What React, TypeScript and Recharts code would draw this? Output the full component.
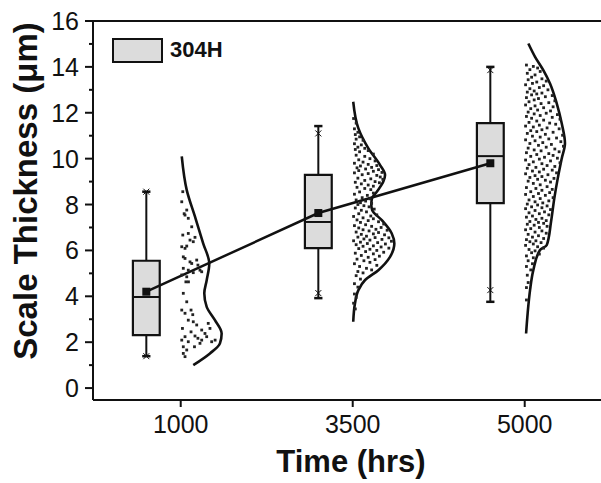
import {
  ComposedChart,
  Label,
  Legend,
  Line,
  ReferenceArea,
  ReferenceLine,
  Scatter,
  XAxis,
  YAxis,
} from "recharts";

const FONT = "'Liberation Sans', Arial, sans-serif";
const INK = "#111";
const BOX_FILL = "#dcdcdc";

const categories = ["1000", "3500", "5000"];
const yTicks = [0, 1, 2, 3, 4, 5, 6, 7, 8, 9, 10, 11, 12, 13, 14, 15, 16];

// box statistics per category (um)
const boxOffset = -0.2;
const boxHalf = 0.078;
const capHalf = 0.024;
const q1 = [2.31, 6.1, 8.06];
const q3 = [5.55, 9.29, 11.55];
const medians = [3.97, 7.24, 10.11];
const means = [4.2, 7.63, 9.8];
const whiskerLow = [1.39, 3.92, 3.76];
const whiskerHigh = [8.56, 11.42, 14.0];
const minMarks = [1.39, 4.14, 4.27];
const maxMarks = [8.56, 11.1, 13.86];

// distribution curves: [offset from tick, thickness]
const curve1000: [number, number][] = [
  [0.006, 10.1], [0.035, 8.63], [0.083, 7.47], [0.131, 6.3], [0.166, 5.43],
  [0.151, 4.7], [0.137, 4.13], [0.151, 3.54], [0.199, 2.96], [0.238, 2.38],
  [0.228, 1.95], [0.17, 1.51], [0.073, 1.0],
];
const curve3500: [number, number][] = [
  [0.003, 12.48], [0.033, 11.32], [0.091, 10.45], [0.159, 9.72], [0.188, 9.29],
  [0.178, 9.0], [0.14, 8.56], [0.112, 8.27], [0.108, 8.0], [0.113, 7.76],
  [0.169, 7.32], [0.227, 6.74], [0.242, 6.3], [0.217, 5.72], [0.149, 5.14],
  [0.072, 4.71], [0.033, 4.27], [0.013, 3.69], [0.003, 2.89],
];
const curve5000: [number, number][] = [
  [0.021, 15.02], [0.06, 14.44], [0.108, 13.86], [0.147, 13.28], [0.186, 12.41],
  [0.215, 11.54], [0.234, 10.67], [0.215, 10.0], [0.192, 9.14], [0.172, 8.27],
  [0.153, 7.25], [0.128, 6.23], [0.089, 6.02], [0.05, 5.14], [0.031, 4.27],
  [0.017, 3.26], [0.008, 2.38],
];

// raw measurements: [offset from tick, thickness]
const points1000: [number, number][] = [
  [0.012, 8.56], [0.006, 8.12], [0.035, 7.76], [0.02, 7.6], [0.025, 7.54], [0.044, 7.4],
  [0.012, 6.67], [0.044, 6.74], [0.064, 7.03], [0.054, 6.45], [0.073, 6.38], [0.083, 6.57],
  [0.006, 6.16], [0.025, 6.09], [0.035, 6.19], [0.015, 5.72], [0.025, 5.65], [0.054, 5.5],
  [0.064, 5.43], [0.093, 5.58], [0.1, 5.36], [0.015, 5.22], [0.044, 5.14], [0.073, 5.03],
  [0.112, 5.14], [0.122, 5.07], [0.006, 4.93], [0.035, 4.85], [0.03, 4.63], [0.045, 4.63],
  [0.015, 4.13], [0.035, 3.76], [0.006, 3.4], [0.025, 3.26], [0.06, 3.4], [0.07, 3.2],
  [0.044, 2.96], [0.073, 2.89], [0.093, 2.75], [0.122, 2.53], [0.141, 2.38], [0.16, 2.82],
  [0.17, 2.6], [0.025, 2.24], [0.006, 2.09], [0.044, 2.02], [0.015, 1.8], [0.035, 1.66],
  [0.083, 2.27], [0.1, 2.17], [0.122, 2.09], [0.151, 2.24], [0.18, 2.02], [0.2, 2.09],
  [0.015, 1.51], [0.025, 1.37], [0.112, 1.95], [0.08, 1.8], [0.06, 2.45], [0.01, 2.6],
];
const points3500: [number, number][] = [
  [0.005, 11.75], [0.02, 11.55], [0.01, 11.3], [0.03, 11.15], [0.015, 11.05],
  [0.04, 10.95], [0.02, 10.85], [0.06, 10.8], [0.01, 10.65], [0.05, 10.6], [0.03, 10.5], [0.07, 10.45], [0.015, 10.4],
  [0.09, 10.35], [0.04, 10.3], [0.12, 10.2], [0.02, 10.15], [0.07, 10.1], [0.1, 10.0], [0.035, 9.95], [0.13, 9.9],
  [0.06, 9.85], [0.01, 9.8], [0.09, 9.75], [0.14, 9.7], [0.045, 9.68], [0.11, 9.62], [0.025, 9.6],
  [0.075, 9.55], [0.15, 9.52], [0.035, 9.48], [0.12, 9.45], [0.17, 9.4], [0.01, 9.38], [0.09, 9.35], [0.055, 9.3],
  [0.14, 9.27], [0.16, 9.2], [0.03, 9.15], [0.105, 9.12], [0.175, 9.1], [0.07, 9.05], [0.13, 9.0], [0.015, 8.97],
  [0.155, 8.95], [0.05, 8.9], [0.09, 8.85], [0.12, 8.8],
  [0.025, 8.75], [0.07, 8.7], [0.105, 8.65], [0.04, 8.55], [0.12, 8.5], [0.01, 8.45], [0.085, 8.4], [0.055, 8.3],
  [0.1, 8.25], [0.02, 8.2], [0.075, 8.15], [0.045, 8.08], [0.11, 8.05], [0.03, 8.0],
  [0.065, 7.95], [0.095, 7.9], [0.015, 7.85], [0.125, 7.8], [0.05, 7.75], [0.08, 7.68], [0.035, 7.6], [0.14, 7.55],
  [0.105, 7.5], [0.005, 7.48], [0.06, 7.42], [0.12, 7.38], [0.025, 7.33], [0.09, 7.3],
  [0.15, 7.25], [0.045, 7.22], [0.18, 7.15], [0.075, 7.12], [0.01, 7.08], [0.11, 7.05], [0.165, 7.0], [0.035, 6.98],
  [0.135, 6.92], [0.06, 6.9], [0.2, 6.88], [0.095, 6.85], [0.02, 6.8], [0.15, 6.78], [0.12, 6.72], [0.05, 6.7],
  [0.185, 6.68], [0.08, 6.62],
  [0.03, 6.58], [0.13, 6.56], [0.21, 6.55], [0.065, 6.5], [0.17, 6.48], [0.1, 6.45], [0.005, 6.42], [0.225, 6.4],
  [0.045, 6.36], [0.145, 6.34], [0.085, 6.3], [0.19, 6.28], [0.02, 6.25], [0.12, 6.2], [0.06, 6.18], [0.165, 6.15],
  [0.21, 6.1], [0.035, 6.08], [0.1, 6.05], [0.14, 6.0], [0.075, 5.95], [0.18, 5.92], [0.015, 5.88], [0.12, 5.85],
  [0.05, 5.78], [0.155, 5.75], [0.09, 5.7], [0.025, 5.62], [0.13, 5.6], [0.065, 5.55], [0.1, 5.48], [0.01, 5.42],
  [0.14, 5.35], [0.04, 5.3], [0.08, 5.22], [0.11, 5.15], [0.03, 5.08], [0.06, 5.02],
  [0.02, 4.9], [0.045, 4.75], [0.01, 4.55], [0.03, 4.4],
  [0.01, 4.1], [0.02, 3.95], [0.005, 3.7], [0.015, 3.45],
];
const points5000: [number, number][] = [
  [0.01, 14.08], [0.05, 14.02], [0.075, 13.95], [0.03, 13.88], [0.09, 13.8], [0.015, 13.72], [0.06, 13.65], [0.04, 13.55],
  [0.1, 13.48], [0.02, 13.44], [0.125, 13.38], [0.07, 13.34], [0.045, 13.28], [0.005, 13.22], [0.11, 13.18], [0.085, 13.1],
  [0.03, 13.05], [0.135, 13.0], [0.055, 12.95], [0.015, 12.9], [0.1, 12.86], [0.07, 12.82],
  [0.04, 12.78], [0.16, 12.75], [0.12, 12.7], [0.01, 12.66], [0.08, 12.62], [0.055, 12.56], [0.175, 12.52], [0.025, 12.48],
  [0.14, 12.44], [0.095, 12.4], [0.005, 12.34], [0.06, 12.3], [0.165, 12.26], [0.11, 12.22], [0.035, 12.18], [0.075, 12.12],
  [0.15, 12.08], [0.02, 12.03],
  [0.125, 11.98], [0.055, 11.95], [0.19, 11.92], [0.09, 11.88], [0.01, 11.84], [0.16, 11.8], [0.04, 11.76], [0.205, 11.72],
  [0.11, 11.68], [0.07, 11.64], [0.025, 11.58], [0.145, 11.55], [0.18, 11.5], [0.085, 11.46], [0.005, 11.42], [0.05, 11.38],
  [0.13, 11.34], [0.2, 11.3], [0.1, 11.26], [0.035, 11.22],
  [0.07, 11.18], [0.165, 11.15], [0.015, 11.1], [0.12, 11.06], [0.22, 11.02], [0.045, 10.98], [0.09, 10.94], [0.185, 10.9],
  [0.14, 10.86], [0.005, 10.82], [0.06, 10.78], [0.21, 10.74], [0.105, 10.7], [0.03, 10.66], [0.155, 10.62], [0.08, 10.58],
  [0.225, 10.54], [0.125, 10.5], [0.02, 10.46], [0.175, 10.42],
  [0.055, 10.38], [0.095, 10.34], [0.2, 10.3], [0.01, 10.26], [0.14, 10.22], [0.07, 10.18], [0.165, 10.14], [0.035, 10.1],
  [0.115, 10.06], [0.19, 10.02], [0.085, 9.98], [0.005, 9.94], [0.15, 9.9], [0.05, 9.86], [0.205, 9.82], [0.1, 9.78],
  [0.025, 9.74], [0.13, 9.7], [0.175, 9.66], [0.065, 9.62],
  [0.015, 9.58], [0.11, 9.54], [0.16, 9.5], [0.045, 9.46], [0.085, 9.42], [0.185, 9.38], [0.005, 9.34], [0.135, 9.3],
  [0.06, 9.26], [0.1, 9.22], [0.03, 9.18], [0.17, 9.14], [0.075, 9.1], [0.12, 9.06], [0.02, 9.02], [0.15, 8.98],
  [0.05, 8.92], [0.09, 8.86],
  [0.13, 8.78], [0.01, 8.74], [0.065, 8.7], [0.16, 8.66], [0.1, 8.62], [0.035, 8.56], [0.145, 8.52], [0.08, 8.48],
  [0.005, 8.44], [0.12, 8.4], [0.05, 8.35], [0.165, 8.3], [0.09, 8.26], [0.025, 8.2], [0.14, 8.16], [0.06, 8.12],
  [0.105, 8.07], [0.015, 8.02],
  [0.075, 7.98], [0.13, 7.94], [0.04, 7.9], [0.1, 7.86], [0.005, 7.82], [0.15, 7.78], [0.06, 7.74], [0.115, 7.68],
  [0.025, 7.64], [0.085, 7.6], [0.14, 7.55], [0.045, 7.5], [0.01, 7.45], [0.1, 7.4], [0.065, 7.35], [0.125, 7.3],
  [0.03, 7.26], [0.08, 7.22],
  [0.11, 7.18], [0.015, 7.14], [0.055, 7.1], [0.13, 7.05], [0.085, 7.0], [0.035, 6.95], [0.005, 6.9], [0.1, 6.85],
  [0.06, 6.8], [0.125, 6.75], [0.02, 6.7], [0.08, 6.64], [0.045, 6.58], [0.11, 6.52], [0.01, 6.47], [0.065, 6.42],
  [0.03, 6.38], [0.095, 6.34], [0.05, 6.28], [0.005, 6.22], [0.075, 6.16], [0.11, 6.1], [0.025, 6.04], [0.06, 5.98],
  [0.04, 5.9], [0.085, 5.84], [0.01, 5.76], [0.05, 5.68],
  [0.02, 5.55], [0.045, 5.42], [0.01, 5.3], [0.035, 5.15], [0.015, 4.92],
  [0.01, 4.38], [0.02, 4.6], [0.01, 3.84],
];

const pointGroups = [points1000, points3500, points5000];
const curves = [curve1000, curve3500, curve5000];

const toXY = (list: [number, number][], i: number) => list.map(([dx, y]) => ({ x: i + dx, y }));
const meanData = means.map((y, i) => ({ x: i + boxOffset, y }));
const markData = [...minMarks, ...maxMarks].map((y, k) => ({ x: (k % 3) + boxOffset, y }));

function YTick(props: any) {
  const { x, y, payload } = props;
  const v = payload.value as number;
  const major = v % 2 === 0;
  const axisX = x + 14;
  return (
    <g>
      <line x1={axisX - (major ? 8 : 4)} x2={axisX} y1={y} y2={y} stroke={INK} strokeWidth={2} />
      {major && (
        <text x={x} y={y} textAnchor="end" dominantBaseline="central" fontSize={25} fill={INK} fontFamily={FONT}>
          {v}
        </text>
      )}
    </g>
  );
}

function YTitle(props: any) {
  const { viewBox } = props;
  const cx = viewBox.x + 37;
  const cy = viewBox.y + 170;
  return (
    <text transform={`translate(${cx},${cy}) rotate(-90)`} textAnchor="middle" fontSize={33} fontWeight="bold" fill={INK} fontFamily={FONT}>
      Scale Thickness (μm)
    </text>
  );
}

function XTitle(props: any) {
  const { viewBox } = props;
  return (
    <text x={viewBox.x + viewBox.width / 2} y={viewBox.y + 72} textAnchor="middle" fontSize={31} fontWeight="bold" fill={INK} fontFamily={FONT}>
      Time (hrs)
    </text>
  );
}

function LegendBox() {
  return (
    <div style={{ display: "flex", alignItems: "center", fontFamily: FONT }}>
      <div style={{ width: 47, height: 21, background: BOX_FILL, border: `2px solid ${INK}` }} />
      <span style={{ marginLeft: 7, fontWeight: "bold", fontSize: 22, color: INK }}>304H</span>
    </div>
  );
}

const Dot = (props: any) => <rect x={props.cx - 1.4} y={props.cy - 1.4} width={2.8} height={2.8} fill="#222" />;
const MeanSquare = (props: any) => <rect key={props.index} x={props.cx - 4} y={props.cy - 4} width={8} height={8} fill={INK} />;
const Cross = (props: any) => (
  <g stroke={INK} strokeWidth={1}>
    <line x1={props.cx - 3} y1={props.cy - 3} x2={props.cx + 3} y2={props.cy + 3} />
    <line x1={props.cx - 3} y1={props.cy + 3} x2={props.cx + 3} y2={props.cy - 3} />
  </g>
);

export default function App() {
  return (
    <div style={{ position: "absolute", left: 0, top: 0, width: 601, height: 483, overflow: "hidden", background: "#fff" }}>
      <ComposedChart width={620} height={483} margin={{ top: 21, right: 11, bottom: 23, left: 0 }}>
        <XAxis
          type="number"
          dataKey="x"
          domain={[-0.51, 2.49]}
          allowDataOverflow
          ticks={[0, 1, 2]}
          tickFormatter={(v: number) => categories[v] ?? ""}
          height={60}
          tickSize={7}
          tickMargin={8}
          tick={{ fontSize: 25, fill: INK, fontFamily: FONT }}
          tickLine={{ stroke: INK, strokeWidth: 2 }}
          axisLine={{ stroke: INK, strokeWidth: 2 }}
        >
          <Label content={XTitle} />
        </XAxis>
        <YAxis
          type="number"
          dataKey="y"
          domain={[-0.52, 16]}
          allowDataOverflow
          ticks={yTicks}
          interval={0}
          width={93}
          tickSize={8}
          tickMargin={6}
          tickLine={false}
          tick={YTick}
          axisLine={{ stroke: INK, strokeWidth: 2 }}
        >
          <Label content={YTitle} />
        </YAxis>
        <Legend
          layout="horizontal"
          verticalAlign="middle"
          align="center"
          content={LegendBox}
          wrapperStyle={{ position: "absolute", top: 37, left: 112, width: "auto", height: "auto" }}
        />
        <ReferenceLine y={16} stroke={INK} strokeWidth={2} />

        {q1.map((lo, i) => (
          <ReferenceLine
            key={`wl${i}`}
            segment={[{ x: i + boxOffset, y: whiskerLow[i] }, { x: i + boxOffset, y: lo }]}
            stroke={INK}
            strokeWidth={2}
          />
        ))}
        {q3.map((hi, i) => (
          <ReferenceLine
            key={`wh${i}`}
            segment={[{ x: i + boxOffset, y: hi }, { x: i + boxOffset, y: whiskerHigh[i] }]}
            stroke={INK}
            strokeWidth={2}
          />
        ))}
        {[...whiskerLow, ...whiskerHigh].map((y, k) => (
          <ReferenceLine
            key={`cap${k}`}
            segment={[{ x: (k % 3) + boxOffset - capHalf, y }, { x: (k % 3) + boxOffset + capHalf, y }]}
            stroke={INK}
            strokeWidth={2.5}
          />
        ))}
        {q1.map((lo, i) => (
          <ReferenceArea
            key={`box${i}`}
            x1={i + boxOffset - boxHalf}
            x2={i + boxOffset + boxHalf}
            y1={lo}
            y2={q3[i]}
            fill={BOX_FILL}
            fillOpacity={1}
            stroke={INK}
            strokeWidth={2.2}
          />
        ))}
        {medians.map((m, i) => (
          <ReferenceLine
            key={`med${i}`}
            segment={[{ x: i + boxOffset - boxHalf, y: m }, { x: i + boxOffset + boxHalf, y: m }]}
            stroke={INK}
            strokeWidth={2}
          />
        ))}

        {pointGroups.map((pts, i) => (
          <Scatter key={`pts${i}`} data={toXY(pts, i)} shape={Dot} isAnimationActive={false} />
        ))}
        {curves.map((c, i) => (
          <Line
            key={`curve${i}`}
            data={toXY(c, i)}
            dataKey="y"
            type="monotoneY"
            stroke={INK}
            strokeWidth={2.6}
            dot={false}
            activeDot={false}
            isAnimationActive={false}
          />
        ))}
        <Scatter data={markData} shape={Cross} isAnimationActive={false} />
        <Line
          data={meanData}
          dataKey="y"
          type="linear"
          stroke={INK}
          strokeWidth={2.5}
          dot={MeanSquare}
          activeDot={false}
          isAnimationActive={false}
        />
      </ComposedChart>
    </div>
  );
}
